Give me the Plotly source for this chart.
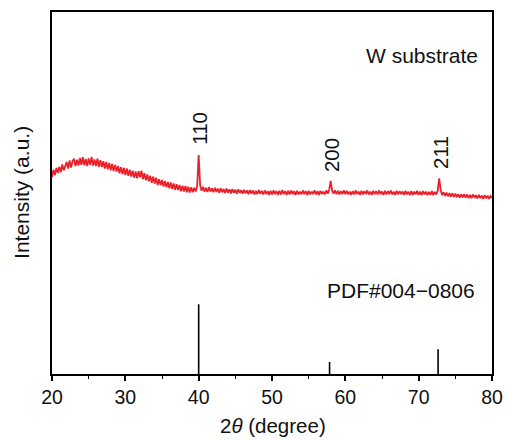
import numpy as np
import plotly.graph_objects as go

# 2-theta grid (degrees), step 0.2
two_theta = np.round(20 + 0.2 * np.arange(301), 1)

# XRD intensity (arbitrary units), rows of 1 degree (5 points each)
intensity = [
    54.8, 56.8, 55.3, 57.3, 55.9,   # 20
    57.6, 56.1, 58.2, 56.6, 58.0,   # 21
    58.9, 57.1, 59.3, 57.4, 59.1,   # 22
    59.8, 57.8, 59.5, 57.9, 60.0,   # 23
    58.1, 60.2, 58.0, 59.7, 57.8,   # 24
    59.9, 58.1, 60.3, 57.9, 59.6,   # 25
    57.8, 59.8, 57.6, 59.4, 57.5,   # 26
    59.1, 57.1, 58.9, 56.9, 58.6,   # 27
    56.6, 58.4, 56.4, 58.1, 56.3,   # 28
    57.8, 55.8, 57.5, 55.6, 57.3,   # 29
    55.3, 57.1, 55.1, 56.8, 54.9,   # 30
    56.5, 54.6, 56.3, 54.4, 56.4,   # 31
    54.7, 56.5, 54.2, 55.8, 53.9,   # 32
    55.5, 53.6, 55.1, 53.2, 54.9,   # 33
    53.0, 54.6, 52.6, 54.2, 52.5,   # 34
    54.0, 52.2, 53.7, 52.0, 53.4,   # 35
    51.7, 53.3, 51.5, 53.0, 51.3,   # 36
    52.8, 51.2, 52.6, 50.9, 52.4,   # 37
    50.8, 52.3, 50.6, 52.1, 50.5,   # 38
    52.0, 50.6, 51.8, 50.8, 52.4,   # 39
    60.8, 52.5, 51.0, 52.1, 50.8,   # 40
    51.8, 50.7, 52.0, 50.8, 51.7,   # 41
    50.6, 51.8, 50.7, 51.6, 50.5,   # 42
    51.7, 50.6, 51.5, 50.4, 51.6,   # 43
    50.5, 51.4, 50.3, 51.5, 50.4,   # 44
    51.3, 50.2, 51.4, 50.4, 51.2,   # 45
    50.2, 51.3, 50.3, 51.1, 50.1,   # 46
    51.2, 50.2, 51.1, 50.0, 51.0,   # 47
    50.1, 51.2, 50.2, 51.0, 50.0,   # 48
    51.1, 50.1, 50.9, 49.9, 51.0,   # 49
    50.0, 51.1, 50.1, 50.9, 49.9,   # 50
    51.0, 50.0, 51.2, 50.1, 50.9,   # 51
    49.9, 51.0, 50.0, 51.1, 50.1,   # 52
    50.9, 49.9, 51.0, 50.0, 50.8,   # 53
    50.0, 51.1, 50.1, 50.9, 49.9,   # 54
    51.0, 50.0, 50.8, 50.1, 51.1,   # 55
    50.0, 50.9, 49.9, 51.0, 50.1,   # 56
    50.8, 50.0, 51.1, 50.2, 51.3,   # 57
    53.7, 51.1, 50.2, 51.1, 50.1,   # 58
    51.0, 50.0, 50.9, 50.1, 51.1,   # 59
    50.1, 51.0, 50.0, 50.8, 49.9,   # 60
    50.9, 50.0, 51.1, 50.1, 50.8,   # 61
    49.9, 51.0, 50.0, 50.9, 50.1,   # 62
    51.1, 50.0, 50.8, 49.9, 51.0,   # 63
    50.1, 50.9, 50.0, 51.1, 50.1,   # 64
    50.8, 49.9, 51.0, 50.0, 50.9,   # 65
    50.1, 51.1, 50.0, 50.8, 49.9,   # 66
    51.0, 50.0, 50.9, 50.1, 50.8,   # 67
    49.9, 51.0, 50.0, 50.8, 49.8,   # 68
    50.9, 49.9, 50.8, 50.0, 51.0,   # 69
    49.9, 50.8, 49.8, 50.9, 50.0,   # 70
    50.8, 49.8, 50.7, 49.9, 50.9,   # 71
    49.8, 50.7, 50.0, 51.1, 54.4,   # 72
    51.3, 49.8, 50.6, 49.6, 50.5,   # 73
    49.5, 50.4, 49.4, 50.3, 49.3,   # 74
    50.2, 49.3, 50.1, 49.1, 50.0,   # 75
    49.2, 50.1, 49.1, 50.0, 49.0,   # 76
    49.9, 49.0, 50.0, 49.1, 49.8,   # 77
    48.9, 49.9, 49.0, 49.7, 48.8,   # 78
    49.8, 48.9, 49.7, 48.8, 49.6,   # 79
    49.0,                           # 80
]

# Reference pattern PDF#004-0806 (W)
pdf_pos = [40.0, 57.85, 72.65]
pdf_int = [19.9, 4.1, 7.6]

# Peak labels
peak_labels = ["110", "200", "211"]
peak_label_x = [40.0, 58.1, 73.05]
peak_label_y = [68.2, 60.9, 61.4]

FONT = "Liberation Sans, Arial, sans-serif"

fig = go.Figure()
fig.add_trace(go.Scatter(
    x=two_theta, y=intensity, mode="lines",
    line=dict(color="#E8212B", width=1.8), showlegend=False,
))

pdf_x, pdf_y = [], []
for p, h in zip(pdf_pos, pdf_int):
    pdf_x += [p, p, None]
    pdf_y += [0, h, None]
fig.add_trace(go.Scatter(
    x=pdf_x, y=pdf_y, mode="lines",
    line=dict(color="black", width=1.6), showlegend=False,
))

for lab, lx, ly in zip(peak_labels, peak_label_x, peak_label_y):
    fig.add_annotation(x=lx, y=ly, text=lab, textangle=-90, showarrow=False,
                       xanchor="center", yanchor="middle",
                       font=dict(family=FONT, size=20.5, color="#111"))

fig.add_annotation(x=78.3, y=88.1, text="W substrate", showarrow=False,
                   xanchor="right", yanchor="middle",
                   font=dict(family=FONT, size=21, color="#111"))
fig.add_annotation(x=78.0, y=23.7, text="PDF#004\u22120806", showarrow=False,
                   xanchor="right", yanchor="middle",
                   font=dict(family=FONT, size=21, color="#111"))

fig.add_annotation(xref="paper", yref="paper", x=-0.069, y=0.502,
                   text="Intensity (a.u.)", textangle=-90, showarrow=False,
                   xanchor="center", yanchor="middle",
                   font=dict(family=FONT, size=21, color="#111"))
fig.add_annotation(xref="paper", yref="paper", x=0.503, y=-0.141,
                   text="2<i>\u03b8</i> (degree)", showarrow=False,
                   xanchor="center", yanchor="middle",
                   font=dict(family=FONT, size=20.5, color="#111"))

fig.update_xaxes(
    range=[20, 80], dtick=10, tick0=20, automargin=False,
    ticks="outside", ticklen=5, tickwidth=1.6, tickcolor="black",
    minor=dict(dtick=5, ticks="outside", ticklen=3, tickwidth=1.4, tickcolor="black"),
    showline=True, linecolor="black", linewidth=2, mirror=True,
    showgrid=False, zeroline=False,
    tickfont=dict(family=FONT, size=19.5, color="#111"),
)
fig.update_yaxes(
    range=[0.8, 100], showticklabels=False, ticks="", automargin=False,
    showline=True, linecolor="black", linewidth=2, mirror=True,
    showgrid=False, zeroline=False,
)
fig.update_layout(
    width=507, height=440,
    margin=dict(l=52, r=15, t=12, b=66),
    plot_bgcolor="white", paper_bgcolor="white",
)
fig.write_html("out.html")
